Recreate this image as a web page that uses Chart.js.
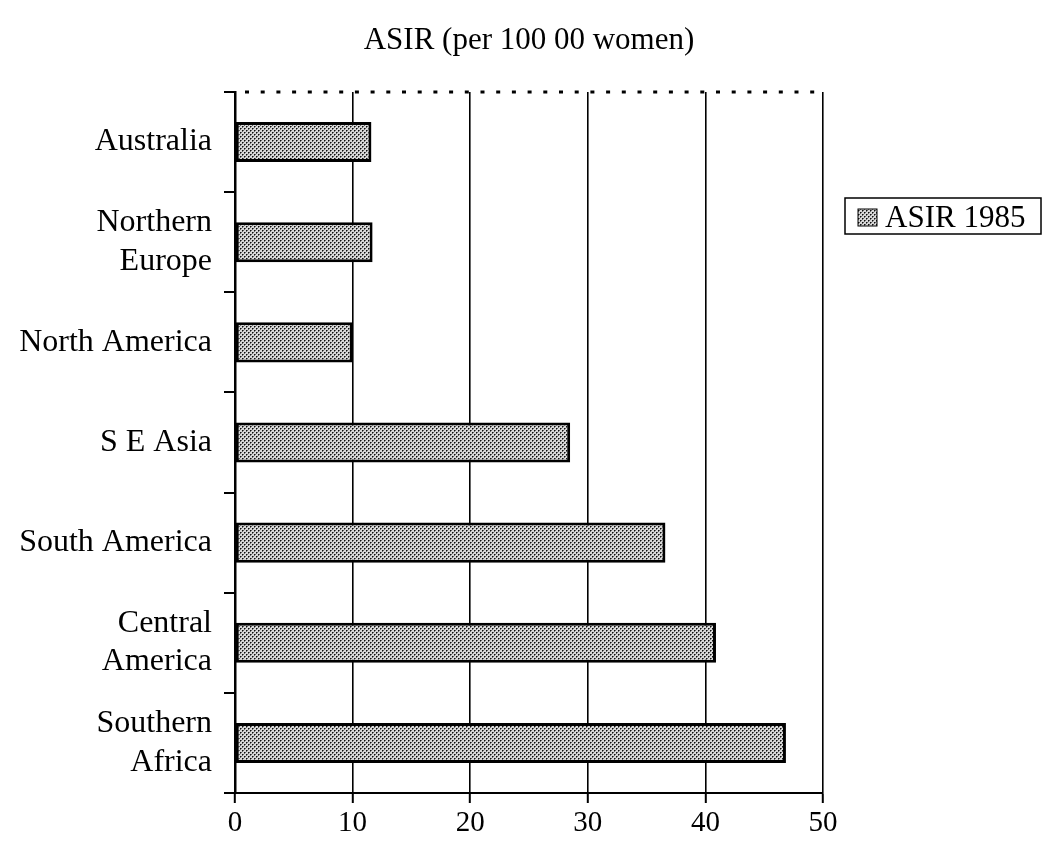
<!DOCTYPE html>
<html>
<head>
<meta charset="utf-8">
<script src="https://cdn.jsdelivr.net/npm/chart.js@4.4.1/dist/chart.umd.min.js"></script>
<style>
  html, body { margin: 0; padding: 0; background: #fff; }
  #wrap { width: 1044px; height: 861px; }
</style>
</head>
<body>
<div id="wrap"><canvas id="c" width="1044" height="861"></canvas></div>
<script>
const categories = [['Australia'], ['Northern', 'Europe'], ['North America'], ['S E Asia'], ['South America'], ['Central', 'America'], ['Southern', 'Africa']];
const asir1985 = [11.6, 11.7, 10.0, 28.5, 36.6, 40.9, 46.85];
const seriesLabel = 'ASIR 1985';
const titleText = 'ASIR (per 100 00 women)';
const xTicks = [0, 10, 20, 30, 40, 50];

const FONT = "'Liberation Serif', 'Times New Roman', serif";

function makePattern() {
  const p = document.createElement('canvas');
  p.width = 4; p.height = 4;
  const g = p.getContext('2d');
  g.fillStyle = '#d8d8d8';
  g.fillRect(0, 0, 4, 4);
  g.fillStyle = '#111';
  g.fillRect(0, 0, 1, 1);
  g.fillRect(2, 2, 1, 1);
  g.fillStyle = '#666';
  g.fillRect(1, 0, 1, 1);
  g.fillRect(3, 2, 1, 1);
  g.fillRect(0, 1, 1, 1);
  g.fillRect(2, 3, 1, 1);
  return document.getElementById('c').getContext('2d').createPattern(p, 'repeat');
}
const pattern = makePattern();

const decor = {
  id: 'decor',
  afterDraw(chart) {
    const ctx = chart.ctx;
    const x = chart.scales.x;
    const ca = chart.chartArea;
    ctx.save();
    // dotted top border
    ctx.strokeStyle = '#000';
    ctx.lineWidth = 3;
    ctx.setLineDash([4, 11.7]);
    ctx.beginPath();
    ctx.moveTo(x.getPixelForValue(0) + 10, ca.top);
    ctx.lineTo(x.getPixelForValue(50), ca.top);
    ctx.stroke();
    ctx.setLineDash([]);
    // title
    ctx.fillStyle = '#000';
    ctx.font = '31px ' + FONT;
    ctx.textAlign = 'center';
    ctx.textBaseline = 'alphabetic';
    ctx.fillText(titleText, (ca.left + ca.right) / 2, 49);
    // legend
    const lx = 845, ly = 198, lw = 196, lh = 36;
    ctx.lineWidth = 1.5;
    ctx.strokeStyle = '#000';
    ctx.strokeRect(lx, ly, lw, lh);
    ctx.fillStyle = pattern;
    ctx.fillRect(858, 209, 19, 17);
    ctx.lineWidth = 1;
    ctx.strokeRect(858, 209, 19, 17);
    ctx.fillStyle = '#000';
    ctx.textAlign = 'left';
    ctx.font = '31px ' + FONT;
    ctx.fillText(chart.data.datasets[0].label, 885, 227);
    ctx.restore();
  }
};

new Chart(document.getElementById('c'), {
  type: 'bar',
  data: {
    labels: categories,
    datasets: [{
      label: seriesLabel,
      data: asir1985,
      backgroundColor: pattern,
      borderColor: '#000',
      borderWidth: 3,
      borderSkipped: false,
      categoryPercentage: 1.0,
      barPercentage: 0.4
    }]
  },
  options: {
    indexAxis: 'y',
    responsive: false,
    animation: false,
    devicePixelRatio: 1,
    layout: { padding: { top: 92, right: 221, left: 0, bottom: 0 } },
    plugins: {
      legend: { display: false },
      title: { display: false },
      tooltip: { enabled: false }
    },
    scales: {
      x: {
        type: 'linear',
        min: 0, max: 50,
        afterBuildTicks(scale) { scale.ticks = xTicks.map(v => ({ value: v })); },
        afterFit(scale) { scale.height = 68; },
        grid: {
          color: '#000',
          lineWidth: 1.6,
          drawTicks: true,
          tickLength: 10,
          tickColor: '#000',
          tickWidth: 2
        },
        border: { display: true, color: '#000', width: 2 },
        ticks: {
          color: '#000',
          font: { family: FONT, size: 29 },
          padding: 3
        }
      },
      y: {
        type: 'category',
        offset: true,
        afterFit(scale) { scale.width = 235; },
        grid: {
          offset: true,
          drawOnChartArea: false,
          drawTicks: true,
          tickLength: 11,
          color: '#000',
          lineWidth: 2
        },
        border: { display: true, color: '#000', width: 2.5 },
        ticks: {
          color: '#000',
          font: { family: FONT, size: 32, lineHeight: 1.2 },
          padding: 12
        }
      }
    }
  },
  plugins: [decor]
});
</script>
</body>
</html>
